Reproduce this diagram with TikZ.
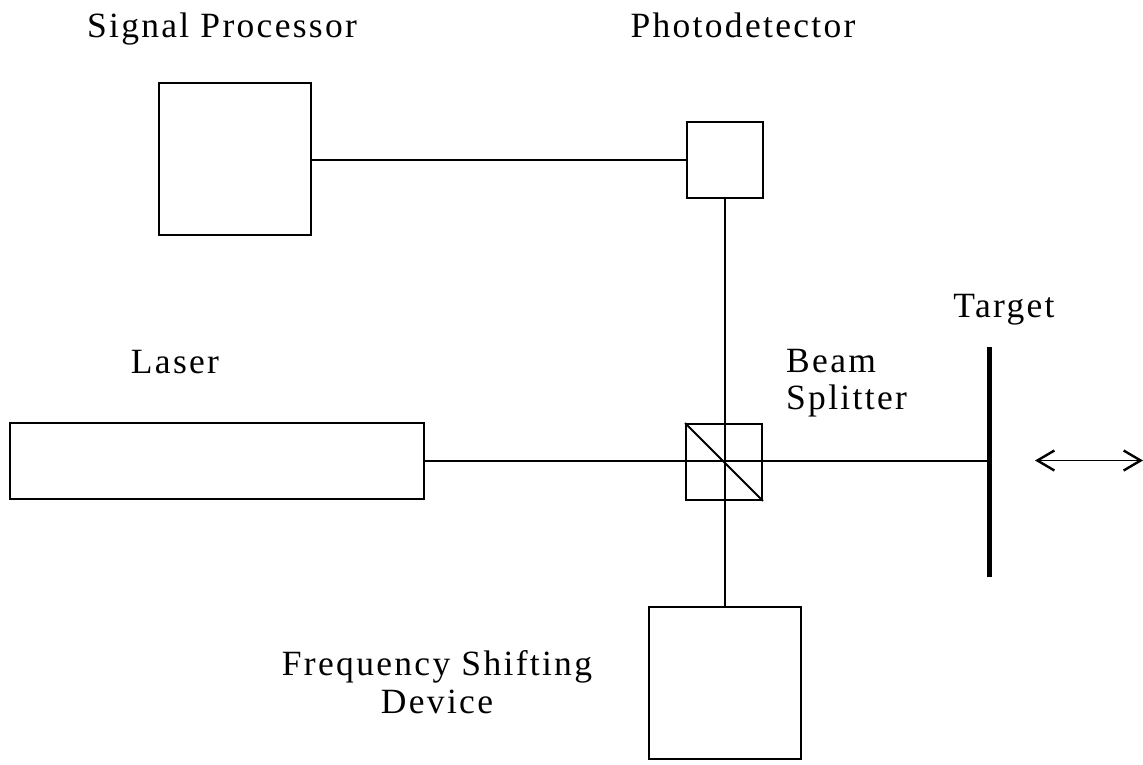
\documentclass[tikz,border=0pt]{standalone}
\usepackage{fontspec}
\setmainfont[LetterSpace=6.5]{Liberation Serif}
\usetikzlibrary{arrows.meta}
\begin{document}
\begin{tikzpicture}[x=1pt,y=-1pt,
  box/.style={draw=black,line width=1.8pt,inner sep=0pt,fill=none},
  conn/.style={draw=black,line width=1.8pt},
  lab/.style={font=\fontsize{35.5}{37.5}\selectfont,align=center,inner sep=0pt,text=black}]
\useasboundingbox (0,0) rectangle (1143,765);
\node[box,minimum width=152pt,minimum height=152pt] (sp) at (235,159) {};
\node[box,minimum width=76pt,minimum height=76pt] (pd) at (725,160) {};
\node[box,minimum width=414pt,minimum height=76pt] (laser) at (217,461) {};
\node[box,minimum width=76pt,minimum height=76pt] (bs) at (724,462) {};
\node[box,minimum width=152pt,minimum height=152pt] (fs) at (725,683) {};
\coordinate (tt) at (989,347);
\coordinate (tb) at (989,577);
\coordinate (th) at (989,461);
\coordinate (al) at (1035,460.5);
\coordinate (ar) at (1143,460.5);
\draw[conn] (sp.east |- pd) -- (pd.west);
\draw[conn] (pd.south) -- (fs.north -| pd.south);
\draw[conn] (laser.east) -- (th);
\draw[conn] (bs.north west) -- (bs.south east);
\draw[draw=black,line width=5pt] (tt) -- (tb);
\draw[conn,{Straight Barb[length=17pt,width=20pt,line width=2.4pt]}-{Straight Barb[length=17pt,width=20pt,line width=2.4pt]}] (al) -- (ar);
\node[lab,anchor=base] (l1) at (222,38) {Signal Processor};
\node[lab,anchor=base] (l2) at (743,38) {Photodetector};
\node[lab,anchor=base] (l3) at (175,373) {Laser};
\node[lab,anchor=base] (l4) at (1004,317) {Target};
\node[lab,align=left,anchor=west] (l5) at (786,383) {Beam\\Splitter};
\node[lab] (l6) at (437,682) {Frequency Shifting\\Device};
\end{tikzpicture}
\end{document}
